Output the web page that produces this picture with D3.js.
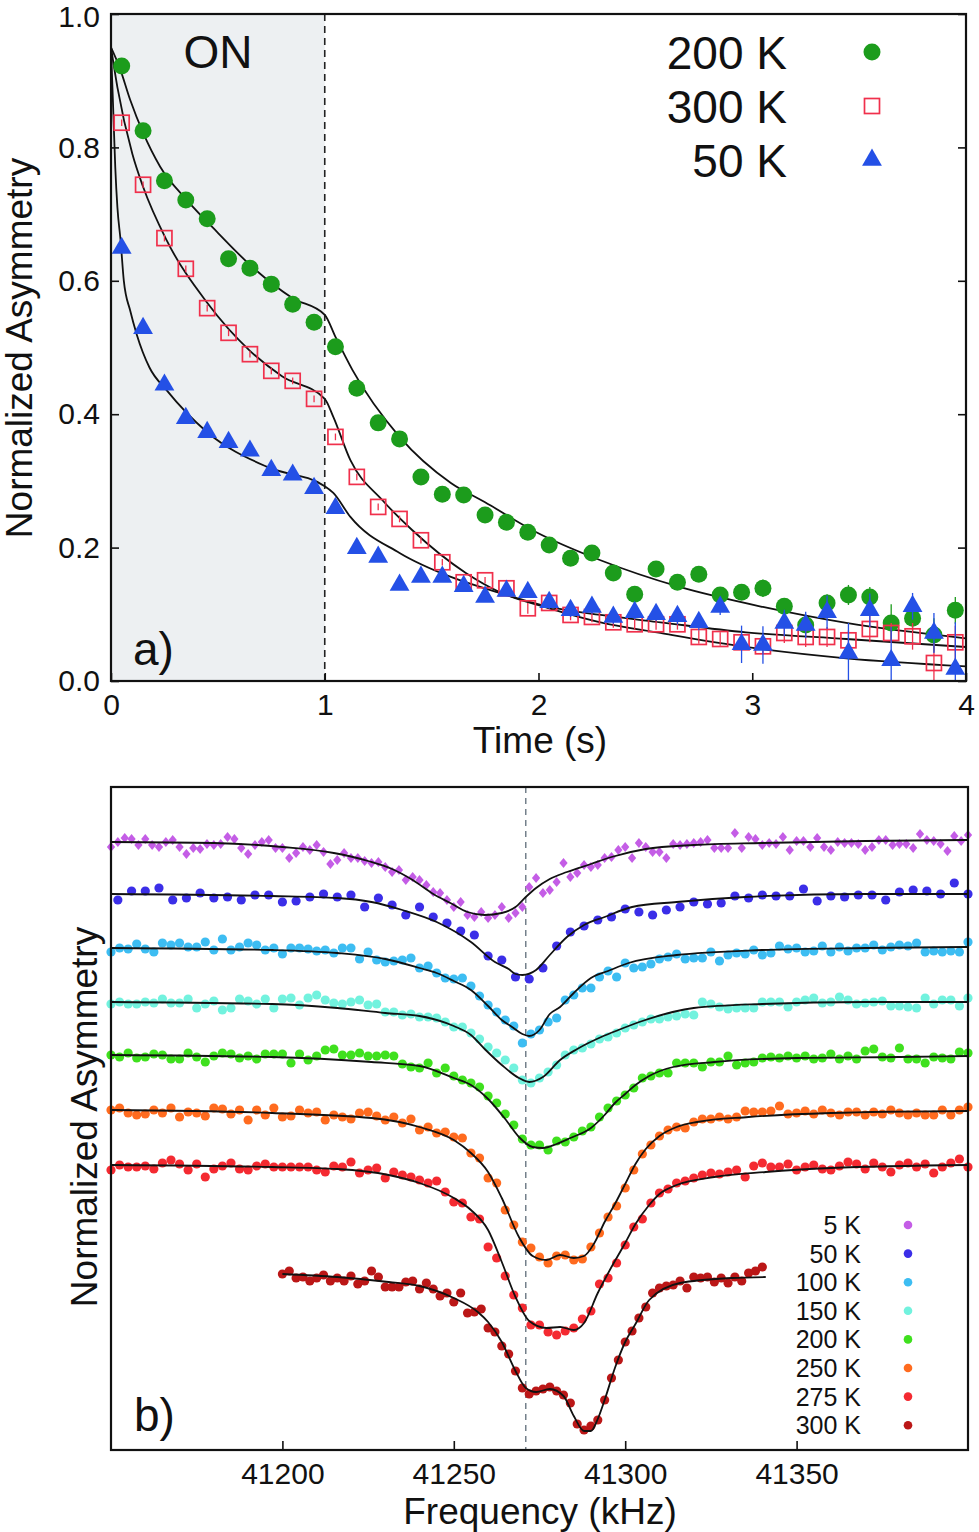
<!DOCTYPE html>
<html lang="en">
<head>
<meta charset="UTF-8">
<title>Normalized asymmetry vs time and frequency</title>
<script src="https://d3js.org/d3.v7.min.js"></script>
<style>
  body { margin: 0; background: #fff; }
  svg { display: block; font-family: "Liberation Sans", Arial, sans-serif; }
  .axis text { font-size: 30px; fill: #111; }
  .axis line { stroke: #111; stroke-width: 1.6px; }
  .axis path { display: none; }
  .frame { fill: none; stroke: #111; stroke-width: 2.2px; }
  .fit { fill: none; stroke: #111; stroke-width: 1.8px; }
</style>
</head>
<body>
<div id="chart"></div>
<script>
// ---------- panel a) : time decay ----------
const timeS = [0.05,0.15,0.25,0.35,0.45,0.55,0.65,0.75,0.85,0.95,
               1.05,1.15,1.25,1.35,1.45,1.55,1.65,1.75,1.85,1.95,
               2.05,2.15,2.25,2.35,2.45,2.55,2.65,2.75,2.85,2.95,
               3.05,3.15,3.25,3.35,3.45,3.55,3.65,3.75,3.85,3.95];

const asym200K = [0.922,0.825,0.750,0.721,0.693,0.633,0.619,0.595,0.565,0.538,
                  0.501,0.439,0.387,0.363,0.306,0.280,0.279,0.249,0.238,0.223,
                  0.204,0.184,0.192,0.162,0.130,0.168,0.148,0.160,0.129,0.133,
                  0.139,0.112,0.084,0.117,0.129,0.126,0.087,0.094,0.069,0.106];
const err200K = [0.005,0.005,0.005,0.005,0.005,0.005,0.005,0.005,0.005,0.005,
                 0.005,0.005,0.005,0.005,0.005,0.005,0.005,0.005,0.005,0.005,
                 0.008,0.008,0.008,0.008,0.008,0.008,0.008,0.008,0.010,0.010,
                 0.013,0.010,0.010,0.013,0.015,0.015,0.028,0.020,0.025,0.020];

const asym300K = [0.837,0.744,0.664,0.618,0.559,0.522,0.490,0.465,0.450,0.423,
                  0.366,0.306,0.261,0.243,0.211,0.178,0.148,0.151,0.139,0.109,
                  0.117,0.099,0.096,0.088,0.085,0.085,0.085,0.066,0.063,0.058,
                  0.052,0.072,0.066,0.066,0.061,0.078,0.072,0.067,0.027,0.058];
const err300K = [0.005,0.005,0.005,0.005,0.005,0.005,0.005,0.005,0.005,0.005,
                 0.005,0.005,0.005,0.005,0.005,0.005,0.005,0.005,0.005,0.008,
                 0.008,0.008,0.008,0.008,0.008,0.008,0.008,0.010,0.010,0.012,
                 0.012,0.015,0.015,0.015,0.015,0.020,0.015,0.020,0.030,0.025];

const asym50K = [0.649,0.529,0.444,0.394,0.373,0.358,0.345,0.316,0.309,0.289,
                 0.259,0.199,0.186,0.144,0.156,0.156,0.142,0.126,0.135,0.133,
                 0.118,0.106,0.111,0.096,0.103,0.100,0.097,0.088,0.111,0.055,
                 0.054,0.087,0.084,0.103,0.042,0.106,0.031,0.112,0.072,0.018];
const err50K = [0.005,0.005,0.005,0.005,0.005,0.005,0.005,0.005,0.005,0.005,
                0.005,0.005,0.005,0.005,0.005,0.005,0.005,0.005,0.008,0.008,
                0.010,0.010,0.010,0.010,0.010,0.010,0.012,0.012,0.012,0.028,
                0.028,0.020,0.020,0.025,0.045,0.025,0.050,0.020,0.030,0.070];

// fitted curves [time, asymmetry]
const fit200K = [[0,0.95],[0.04,0.92],[0.09,0.871],[0.15,0.822],[0.23,0.771],[0.355,0.721],[0.5,0.672],
                 [0.66,0.621],[0.85,0.574],[1,0.549],[1.05,0.516],[1.13,0.466],[1.35,0.366],[1.59,0.297],
                 [1.75,0.268],[1.99,0.223],[2.29,0.181],[2.66,0.141],[3.05,0.111],[3.44,0.087],[4,0.064]];
const fit300K = [[0,0.95],[0.03,0.89],[0.1,0.79],[0.15,0.741],[0.26,0.661],[0.45,0.567],[0.65,0.495],
                 [0.8,0.457],[1,0.423],[1.04,0.396],[1.12,0.331],[1.27,0.271],[1.41,0.226],[1.66,0.162],
                 [1.82,0.133],[2.05,0.109],[2.29,0.088],[2.57,0.072],[2.97,0.051],[3.44,0.034],[4,0.022]];
const fit50K = [[0,0.95],[0.01,0.86],[0.02,0.77],[0.03,0.71],[0.045,0.66],[0.06,0.6],[0.09,0.555],
                [0.12,0.52],[0.18,0.47],[0.26,0.436],[0.45,0.373],[0.73,0.321],[1,0.292],[1.04,0.282],
                [1.12,0.246],[1.35,0.192],[1.59,0.156],[1.82,0.132],[2.05,0.111],[2.29,0.099],
                [2.57,0.088],[2.97,0.073],[3.44,0.063],[4,0.051]];

const timeTicks = [0, 1, 2, 3, 4];
const asymTicks = [0, 0.2, 0.4, 0.6, 0.8, 1.0];
const pumpOn = [0, 1];

// ---------- panel b) : spectra (asymmetry, arb. units, baseline 100) ----------
const asy5K = [95,100,104,103,97,103,97,95,100,102,95,88,94,93,98,97,98,105,103,94,88,97,100,102,94,
  94,84,89,95,92,97,90,78,82,89,84,84,81,79,80,75,70,72,62,65,62,57,50,49,42,35,40,27,25,30,
  24,27,35,24,29,35,55,64,49,52,60,79,65,69,77,75,77,84,85,92,
  95,84,99,95,90,90,84,98,97,98,99,100,102,94,94,94,109,94,105,103,97,99,98,105,92,
  101,101,95,104,95,92,100,99,99,98,92,95,102,102,97,98,98,94,108,102,101,98,91,106,101,107];
const asy50K = [94,103,103,106,94,96,101,96,97,94,99,99,
  92,93,97,100,97,99,87,96,89,79,87,77,71,63,59,38,34,17,15,26,48,62,68,74,77,
  85,82,79,84,87,92,90,91,98,96,99,98,98,105,93,98,97,99,99,94,102,104,103,100,111,100];
const asy100K = [96,100,99,104,99,96,105,103,105,101,101,106,98,109,98,101,105,103,98,100,
  94,100,100,99,97,98,95,100,100,89,96,88,86,87,88,90,
  80,82,75,70,69,70,62,52,43,36,28,22,5,14,18,26,30,48,53,60,60,71,77,71,
  85,80,81,84,89,91,94,89,90,90,96,87,93,95,94,98,93,95,102,99,100,96,97,102,96,101,97,100,100,
  103,98,101,103,102,105,96,97,96,97,96,106];
const asy150K = [98,100,98,98,100,99,103,99,99,103,94,98,101,92,94,103,101,98,103,94,
  103,104,97,104,107,102,99,98,100,102,97,98,90,90,87,88,
  85,85,84,80,75,75,69,63,55,49,42,34,22,19,24,30,37,47,52,54,58,63,65,69,
  74,77,80,83,83,85,86,88,87,100,98,95,93,94,94,94,100,100,100,95,100,102,104,99,100,105,102,98,99,
  100,101,96,96,95,94,104,98,102,102,96,104];
const asy200K = [100,98,102,97,98,101,100,96,96,102,98,93,99,102,101,97,99,96,101,101,
  101,92,101,95,99,105,106,100,100,102,99,99,100,99,91,88,
  87,92,82,87,79,75,72,68,59,52,41,30,16,10,10,5,14,13,18,24,28,38,47,54,
  60,67,77,79,82,82,92,92,92,88,93,93,99,90,92,93,97,98,97,99,97,99,96,97,101,96,99,96,104,106,
  98,97,107,96,96,92,98,97,96,103,102];
const asy250K = [100,102,97,95,96,100,97,102,93,98,97,94,102,101,96,100,90,100,95,102,
  93,94,100,97,98,90,95,93,91,97,98,94,90,93,87,91,
  80,83,77,78,73,72,57,52,32,27,0,-15,-32,-38,-47,-53,-46,-45,-50,-49,-37,-23,-7,4,
  22,40,56,65,74,80,83,82,88,91,91,93,91,93,99,98,98,99,104,96,97,99,96,100,97,95,98,98,95,98,
  96,100,97,95,97,95,95,100,95,100,103];
const asy275K = [95,100,98,98,99,96,102,105,101,95,101,88,96,99,102,96,95,99,101,98,
  98,98,98,98,95,93,99,98,103,92,95,97,87,93,90,88,
  85,82,84,73,63,62,48,46,18,7,-11,-30,-43,-60,-60,-67,-70,-66,-63,-54,-46,-19,-13,2,
  20,38,46,62,72,76,82,84,87,90,92,91,93,95,88,99,102,98,98,101,95,98,100,96,95,99,103,101,96,102,
  98,93,100,102,98,101,92,98,102,106,98];
const asy300K = [100,103,96,97,93,96,99,93,96,93,98,90,93,103,97,87,87,87,92,93,85,91,85,78,81,
  72,81,61,62,65,46,42,28,20,3,-14,-20,-17,-15,-13,-17,-21,-29,-50,-56,-52,-46,-26,-4,14,
  32,43,56,67,81,86,88,89,93,86,97,96,97,92,96,91,97,93,101,103,107];

// sampling grid of each spectrum: first frequency and step (kHz)
const freqStart = [41150, 41152, 41150, 41150, 41150, 41150, 41150, 41200];
const freqStep  = [2, 4, 2.5, 2.5, 2.5, 2.5, 2.5, 2];

// fitted curves [frequency kHz, asymmetry]
const fitSpec5K = [[41150,100],[41180,99],[41200,95],[41215,89],[41225,81],[41232,73],[41238,62],[41244,48],
  [41249,39],[41254,30],[41259,27],[41264,29],[41268,35],[41271,45],[41274,54],[41278,63],[41283,70],
  [41290,78],[41296,85],[41306,93],[41320,97],[41340,99],[41370,101],[41400,102]];
const fitSpec50K = [[41150,100],[41197,98],[41216,96],[41226,92],[41235,84],[41245,72],[41255,52],[41262,32],
  [41266,25],[41268,20],[41270,19],[41274,24],[41278,39],[41283,57],[41288,69],[41294,77],[41302,87],
  [41315,92],[41335,97],[41370,100],[41400,100]];
const fitSpec100K = [[41150,100],[41197,98],[41216,95],[41230,89],[41240,80],[41245,75],[41250,67],[41255,58],
  [41260,42],[41264,28],[41267,21],[41270,14],[41272,12],[41275,18],[41278,34],[41281,41],[41285,55],
  [41290,70],[41295,77],[41301,85],[41315,93],[41340,98],[41370,100],[41400,101]];
const fitSpec150K = [[41150,100],[41197,98],[41216,94],[41230,89],[41240,86],[41250,76],[41255,67],[41259,53],
  [41264,37],[41269,24],[41272,20],[41276,25],[41281,42],[41286,53],[41293,65],[41298,72],[41305,81],
  [41320,94],[41340,98],[41370,100],[41400,100]];
const fitSpec200K = [[41150,100],[41197,98],[41226,93],[41240,89],[41250,77],[41255,70],[41260,56],[41265,36],
  [41269,18],[41273,8],[41276,7],[41280,11],[41284,17],[41290,27],[41294,40],[41297,52],[41300,61],
  [41303,70],[41307,79],[41314,88],[41326,93],[41350,97],[41380,98],[41400,99]];
const fitSpec250K = [[41150,100],[41197,97],[41226,92],[41240,83],[41250,70],[41255,57],[41260,38],[41264,12],
  [41269,-27],[41273,-46],[41277,-50],[41281,-45],[41285,-48],[41288,-46],[41291,-33],[41294,-12],
  [41297,6],[41300,26],[41303,46],[41306,61],[41310,74],[41315,83],[41321,88],[41336,93],[41360,97],[41400,99]];
const fitSpec275K = [[41150,100],[41197,98],[41216,96],[41231,90],[41240,82],[41250,67],[41255,55],[41260,35],
  [41264,3],[41268,-32],[41272,-56],[41277,-63],[41281,-62],[41285,-65],[41288,-58],[41292,-28],
  [41296,-2],[41300,22],[41303,41],[41307,60],[41310,71],[41315,80],[41326,88],[41341,93],[41360,97],[41400,100]];
const fitSpec300K = [[41200,100],[41216,97],[41231,92],[41240,88],[41250,76],[41257,62],[41260,52],[41264,32],
  [41268,3],[41271,-14],[41274,-18],[41278,-15],[41282,-22],[41285,-42],[41288,-57],[41290,-57],
  [41292,-45],[41294,-26],[41297,6],[41300,32],[41303,50],[41307,74],[41316,91],[41331,96],[41341,97]];

const specLabels = ["5 K","50 K","100 K","150 K","200 K","250 K","275 K","300 K"];
const specOffsets = [0, -52, -106, -160, -213, -268, -323, -432];
const freqTicks = [41200, 41250, 41300, 41350];
const refFreq = 41271;

// ---------- drawing ----------
const width = 979, height = 1532;
const svg = d3.select("#chart").append("svg")
    .attr("width", width).attr("height", height);

const A = { left: 111, right: 966, top: 14, bottom: 681 };
const xT = d3.scaleLinear().domain([0, 4]).range([A.left, A.right]);
const yA = d3.scaleLinear().domain([0, 1]).range([A.bottom, A.top]);

svg.append("clipPath").attr("id", "clipA").append("rect")
    .attr("x", A.left).attr("y", A.top)
    .attr("width", A.right - A.left).attr("height", A.bottom - A.top);

// shaded "ON" interval
svg.append("rect")
    .attr("x", xT(pumpOn[0])).attr("y", yA(1))
    .attr("width", xT(pumpOn[1]) - xT(pumpOn[0]))
    .attr("height", yA(0) - yA(1))
    .attr("fill", "#edf0f2");

svg.append("line")
    .attr("x1", xT(pumpOn[1])).attr("x2", xT(pumpOn[1]))
    .attr("y1", yA(0)).attr("y2", yA(1))
    .attr("stroke", "#222").attr("stroke-width", 1.6)
    .attr("stroke-dasharray", "7,5");

svg.append("g").attr("class", "axis")
    .attr("transform", `translate(${A.left},0)`)
    .call(d3.axisLeft(yA).tickValues(asymTicks).tickSize(-8).tickPadding(11)
        .tickFormat(d3.format(".1f")))
    .selectAll("text").filter(d => d === 1).attr("dy", "0.42em");
svg.append("g").attr("class", "axis")
    .attr("transform", `translate(${A.right},0)`)
    .call(d3.axisRight(yA).tickValues(asymTicks).tickSize(-8).tickFormat(""));
svg.append("g").attr("class", "axis")
    .attr("transform", `translate(0,${A.bottom})`)
    .call(d3.axisBottom(xT).tickValues(timeTicks).tickSize(-8).tickPadding(13)
        .tickFormat(d3.format("d")));

const lineA = d3.line().x(d => xT(d[0])).y(d => yA(d[1])).curve(d3.curveMonotoneX);
const gFitA = svg.append("g").attr("clip-path", "url(#clipA)");
[fit200K, fit300K, fit50K].forEach(f => {
    gFitA.append("path").datum(f).attr("class", "fit").attr("d", lineA);
});

const seriesA = [
    { label: "200 K", values: asym200K, err: err200K, color: "#1c9c1c", shape: "circle" },
    { label: "300 K", values: asym300K, err: err300K, color: "#f0304c", shape: "square" },
    { label: "50 K",  values: asym50K,  err: err50K,  color: "#2450e6", shape: "triangle" }
];

function drawMarker(g, shape, color) {
    if (shape === "circle") {
        g.append("circle").attr("r", 8.5).attr("fill", color);
    } else if (shape === "square") {
        g.append("rect").attr("x", -7.5).attr("y", -7.5).attr("width", 15).attr("height", 15)
            .attr("fill", "none").attr("stroke", color).attr("stroke-width", 1.7);
    } else {
        g.append("path").attr("d", d3.symbol().type(d3.symbolTriangle).size(170)())
            .attr("fill", color);
    }
}

const gPts = svg.append("g").attr("clip-path", "url(#clipA)");
seriesA.forEach(s => {
    const pts = timeS.map((t, i) => ({ t, v: s.values[i], e: s.err[i] }));
    gPts.append("g").selectAll("line").data(pts).join("line")
        .attr("x1", d => xT(d.t)).attr("x2", d => xT(d.t))
        .attr("y1", d => yA(d.v - d.e)).attr("y2", d => yA(d.v + d.e))
        .attr("stroke", s.color).attr("stroke-width", 1.3);
    gPts.append("g").selectAll("g").data(pts).join("g")
        .attr("transform", d => `translate(${xT(d.t)},${yA(d.v)})`)
        .each(function () { drawMarker(d3.select(this), s.shape, s.color); });
});

svg.append("rect").attr("class", "frame")
    .attr("x", A.left).attr("y", A.top)
    .attr("width", A.right - A.left).attr("height", A.bottom - A.top);

// legend a)
seriesA.forEach((s, i) => {
    const cy = 52 + i * 54;
    svg.append("text").attr("x", 787).attr("y", cy + 16.5)
        .attr("text-anchor", "end").attr("font-size", 46).attr("fill", "#111").text(s.label);
    drawMarker(svg.append("g").attr("transform", `translate(872,${cy})`), s.shape, s.color);
});

svg.append("text").attr("x", 218).attr("y", 68).attr("text-anchor", "middle")
    .attr("font-size", 46).attr("fill", "#111").text("ON");
svg.append("text").attr("x", 133).attr("y", 665)
    .attr("font-size", 46).attr("fill", "#111").text("a)");
svg.append("text").attr("x", 540).attr("y", 753).attr("text-anchor", "middle")
    .attr("font-size", 37).attr("fill", "#111").text("Time (s)");
svg.append("text").attr("transform", "translate(32,348) rotate(-90)")
    .attr("text-anchor", "middle").attr("font-size", 37).attr("fill", "#111")
    .text("Normalized Asymmetry");

// ---------- panel b) ----------
const B = { left: 111, right: 968, top: 787, bottom: 1450 };
const xF = d3.scaleLinear().domain([41150, 41400]).range([B.left, B.right]);
const yB = d3.scaleLinear().domain([-508, 155]).range([B.bottom, B.top]);

svg.append("line")
    .attr("x1", xF(refFreq)).attr("x2", xF(refFreq))
    .attr("y1", B.top).attr("y2", B.bottom)
    .attr("stroke", "#5f6d7a").attr("stroke-width", 1.3)
    .attr("stroke-dasharray", "6,5");

svg.append("g").attr("class", "axis")
    .attr("transform", `translate(0,${B.bottom})`)
    .call(d3.axisBottom(xF).tickValues(freqTicks).tickSize(-9).tickPadding(13)
        .tickFormat(d3.format("d")));

const specValues = [asy5K, asy50K, asy100K, asy150K, asy200K, asy250K, asy275K, asy300K];
const specFits = [fitSpec5K, fitSpec50K, fitSpec100K, fitSpec150K, fitSpec200K, fitSpec250K, fitSpec275K, fitSpec300K];
const specColors = ["#c45de6", "#3b2ee8", "#3dbdf2", "#72f2de", "#3fe01e", "#ff6b1f", "#f42a31", "#bb1717"];

const spectra = specLabels.map((label, k) => ({
    label, color: specColors[k], off: specOffsets[k], fit: specFits[k],
    pts: specValues[k].map((v, i) => ({ f: freqStart[k] + i * freqStep[k], v }))
}));

spectra.forEach((s, k) => {
    const g = svg.append("g");
    if (k === 0) {
        g.selectAll("path").data(s.pts).join("path")
            .attr("d", d3.symbol().type(d3.symbolSquare).size(34)())
            .attr("transform", d => `translate(${xF(d.f)},${yB(d.v + s.off)}) scale(1,1.2) rotate(45)`)
            .attr("fill", s.color);
    } else {
        g.selectAll("circle").data(s.pts).join("circle")
            .attr("cx", d => xF(d.f)).attr("cy", d => yB(d.v + s.off))
            .attr("r", 4.6).attr("fill", s.color);
    }
});

spectra.forEach(s => {
    const line = d3.line().x(d => xF(d[0])).y(d => yB(d[1] + s.off)).curve(d3.curveMonotoneX);
    svg.append("path").datum(s.fit).attr("class", "fit").attr("d", line);
});

svg.append("rect").attr("class", "frame")
    .attr("x", B.left).attr("y", B.top)
    .attr("width", B.right - B.left).attr("height", B.bottom - B.top);

// legend b)
spectra.forEach((s, i) => {
    const cy = 1225 + i * 28.6;
    svg.append("text").attr("x", 861).attr("y", cy + 9)
        .attr("text-anchor", "end").attr("font-size", 25).attr("fill", "#111").text(s.label);
    svg.append("circle").attr("cx", 908).attr("cy", cy).attr("r", 4.3).attr("fill", s.color);
});

svg.append("text").attr("x", 134).attr("y", 1431)
    .attr("font-size", 46).attr("fill", "#111").text("b)");
svg.append("text").attr("x", 540).attr("y", 1524).attr("text-anchor", "middle")
    .attr("font-size", 37).attr("fill", "#111").text("Frequency (kHz)");
svg.append("text").attr("transform", "translate(97,1117) rotate(-90)")
    .attr("text-anchor", "middle").attr("font-size", 37).attr("fill", "#111")
    .text("Normalized Asymmetry");
</script>
</body>
</html>
